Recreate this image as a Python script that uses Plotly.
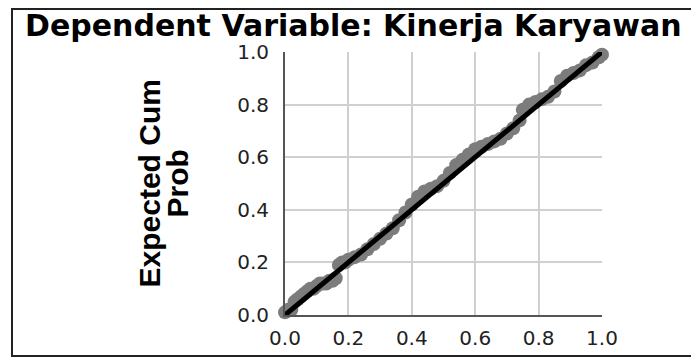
import plotly.graph_objects as go

# Normal P-P plot of regression standardized residual
title_text = "Dependent Variable: Kinerja Karyawan"
y_title_lines = ["Expected Cum", "Prob"]

observed_cum_prob = [0.00, 0.01, 0.02, 0.03, 0.04, 0.05, 0.06, 0.07, 0.08, 0.09,
                     0.10, 0.11, 0.12, 0.13, 0.14, 0.15, 0.16, 0.17, 0.18, 0.19,
                     0.20, 0.22, 0.24, 0.26, 0.28, 0.30, 0.32, 0.34, 0.36, 0.38,
                     0.40, 0.42, 0.44, 0.46, 0.48, 0.50, 0.52, 0.54, 0.56, 0.58,
                     0.60, 0.62, 0.64, 0.66, 0.68, 0.70, 0.72, 0.74, 0.75, 0.77,
                     0.79, 0.81, 0.83, 0.85, 0.87, 0.89, 0.91, 0.93, 0.95, 0.97,
                     0.99, 1.00]
expected_cum_prob = [0.01, 0.02, 0.02, 0.05, 0.06, 0.07, 0.08, 0.09, 0.10, 0.10,
                     0.11, 0.12, 0.12, 0.12, 0.13, 0.13, 0.14, 0.19, 0.20, 0.20,
                     0.21, 0.22, 0.23, 0.25, 0.27, 0.29, 0.31, 0.33, 0.36, 0.39,
                     0.42, 0.45, 0.47, 0.48, 0.49, 0.51, 0.54, 0.57, 0.59, 0.61,
                     0.63, 0.64, 0.65, 0.66, 0.67, 0.69, 0.71, 0.74, 0.78, 0.80,
                     0.81, 0.82, 0.83, 0.85, 0.89, 0.91, 0.92, 0.93, 0.95, 0.96,
                     0.98, 0.99]
ref_x = [0.0, 1.0]
ref_y = [0.0, 1.0]
tick_vals = [0.0, 0.2, 0.4, 0.6, 0.8, 1.0]
tick_text = ["0.0", "0.2", "0.4", "0.6", "0.8", "1.0"]

fig = go.Figure()
fig.add_trace(go.Scatter(x=observed_cum_prob, y=expected_cum_prob, mode="markers",
                         marker=dict(size=14, color="#7c7c7c", line=dict(width=0)),
                         cliponaxis=False, showlegend=False, hoverinfo="skip"))
fig.add_trace(go.Scatter(x=ref_x, y=ref_y, mode="lines",
                         line=dict(color="#000000", width=5),
                         cliponaxis=False, showlegend=False, hoverinfo="skip"))

W, H = 691, 363
L, R, T, B = 285, 602, 52, 315

axis_common = dict(range=[0, 1], tickvals=tick_vals, ticktext=tick_text,
                   showgrid=True, gridcolor="#d0d0d0", gridwidth=2,
                   zeroline=False, showline=True, linecolor="#555555", linewidth=2,
                   ticks="", tickfont=dict(family="DejaVu Sans", size=20, color="#222222"),
                   fixedrange=True)

fig.update_layout(
    width=W, height=H,
    margin=dict(l=L, r=W - R, t=T, b=H - B, pad=0),
    paper_bgcolor="white", plot_bgcolor="white",
    xaxis=dict(**axis_common, ticklabelstandoff=4),
    yaxis=dict(**axis_common, ticklabelstandoff=10),
    title=dict(text=title_text, xref="container", yref="container",
               x=25 / W, xanchor="left", y=1 - 25 / H, yanchor="middle",
               font=dict(family="DejaVu Sans", size=30, color="#000000", weight="bold")),
    showlegend=False,
)

pw, ph = R - L, B - T
fig.add_annotation(text=y_title_lines[0], xref="paper", yref="paper",
                   x=(149 - L) / pw, y=0.5, xanchor="center", yanchor="middle",
                   textangle=-90, showarrow=False,
                   font=dict(family="Liberation Sans", size=30, color="#000000", weight="bold"))
fig.add_annotation(text=y_title_lines[1], xref="paper", yref="paper",
                   x=(177 - L) / pw, y=0.5, xanchor="center", yanchor="middle",
                   textangle=-90, showarrow=False,
                   font=dict(family="Liberation Sans", size=30, color="#000000", weight="bold"))

# outer frame of the chart image
fig.add_shape(type="rect", xref="paper", yref="paper",
              x0=(12 - L) / pw, x1=(720 - L) / pw,
              y0=(B - 356) / ph, y1=(B - 9) / ph,
              line=dict(color="#222222", width=2), fillcolor="rgba(0,0,0,0)", layer="below")

# remove the default 8px page margin so the figure sits at the window's corner
fig.write_html("out.html", config={"displayModeBar": False},
               post_script="document.body.style.margin='0px';")
